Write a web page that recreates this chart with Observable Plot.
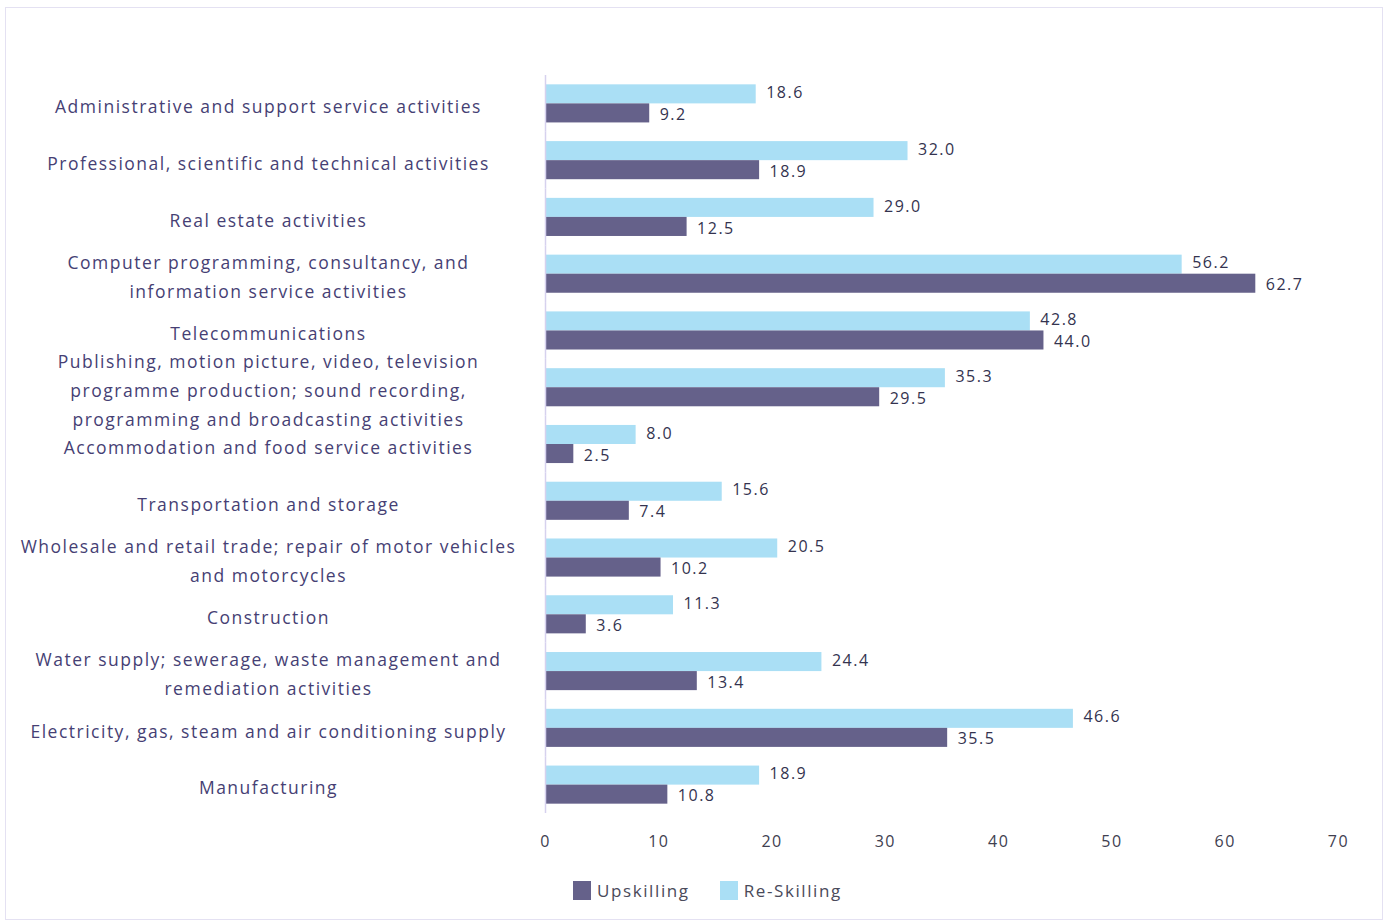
<!DOCTYPE html>
<html>
<head>
<meta charset="utf-8">
<script src="https://cdn.jsdelivr.net/npm/d3@7"></script>
<script src="https://cdn.jsdelivr.net/npm/@observablehq/plot@0.6"></script>
<style>
  html, body { margin: 0; padding: 0; background: #fff; }
  body { width: 1387px; height: 923px; position: relative; overflow: hidden; font-family: "Open Sans", sans-serif; }
  #frame { position: absolute; left: 5px; top: 7px; width: 1376px; height: 911px; border: 1px solid #e4e1f2; }
  #chart { position: absolute; left: 0; top: 0; }
  #chart svg text { letter-spacing: 1.5px; }
  #legend { position: absolute; top: 879px; left: 573px; display: flex; align-items: center; font-size: 17px; letter-spacing: 1.6px; color: #4a4a5a; }
  .sw { width: 18px; height: 19px; display: inline-block; margin-right: 6px; }
  .item { display: flex; align-items: center; margin-right: 30px; }
</style>
</head>
<body>
<div id="frame"></div>
<div id="chart"></div>
<div id="legend"></div>
<script>
const categories = [
  "Administrative and support service activities",
  "Professional, scientific and technical activities",
  "Real estate activities",
  "Computer programming, consultancy, and\ninformation service activities",
  "Telecommunications",
  "Publishing, motion picture, video, television\nprogramme production; sound recording,\nprogramming and broadcasting activities",
  "Accommodation and food service activities",
  "Transportation and storage",
  "Wholesale and retail trade; repair of motor vehicles\nand motorcycles",
  "Construction",
  "Water supply; sewerage, waste management and\nremediation activities",
  "Electricity, gas, steam and air conditioning supply",
  "Manufacturing"
];
const upskilling = [9.2, 18.9, 12.5, 62.7, 44.0, 29.5, 2.5, 7.4, 10.2, 3.6, 13.4, 35.5, 10.8];
const reskilling = [18.6, 32.0, 29.0, 56.2, 42.8, 35.3, 8.0, 15.6, 20.5, 11.3, 24.4, 46.6, 18.9];
const seriesNames = ["Upskilling", "Re-Skilling"];
const seriesColors = ["#65618a", "#aadff5"];
const xTicks = [0, 10, 20, 30, 40, 50, 60, 70];

const data = [];
categories.forEach((c, i) => {
  data.push({category: c, series: "Re-Skilling", value: reskilling[i]});
  data.push({category: c, series: "Upskilling", value: upskilling[i]});
});

const labelStyle = {x: "value", fy: "category", y: "series", text: d => d.value.toFixed(1),
  textAnchor: "start", dx: 10, fontSize: 16, fill: "#34334f"};

const plot = Plot.plot({
  width: 1387,
  height: 870,
  marginLeft: 545,
  marginRight: 49,
  marginTop: 75,
  marginBottom: 57,
  style: {fontFamily: "Open Sans, sans-serif", background: "transparent"},
  x: {domain: [0, 70], axis: null},
  y: {domain: ["Re-Skilling", "Upskilling"], paddingInner: 0, paddingOuter: 0.49, round: false, axis: null},
  fy: {domain: categories, padding: 0, round: false, axis: null},
  color: {domain: seriesNames, range: seriesColors},
  marks: [
    Plot.barX(data, {fy: "category", y: "series", x: "value", fill: "series"}),
    Plot.text(data.filter(d => d.series === "Re-Skilling"), {...labelStyle, dy: -1.5}),
    Plot.text(data.filter(d => d.series === "Upskilling"), {...labelStyle, dy: 1.5}),
    Plot.ruleX([0], {stroke: "#d6d1ee", strokeWidth: 1.5}),
    Plot.text(categories, {fy: d => d, text: d => d, frameAnchor: "left", dx: -277,
      textAnchor: "middle", fontSize: 17.5, lineHeight: 1.66, fill: "#463f74"}),
    Plot.axisX({ticks: xTicks, tickSize: 0, tickPadding: 22, fontSize: 16, color: "#404050",
      tickFormat: d => d, label: null})
  ]
});
document.getElementById("chart").appendChild(plot);

const legend = document.getElementById("legend");
seriesNames.forEach((s, i) => {
  const item = document.createElement("span");
  item.className = "item";
  const sw = document.createElement("span");
  sw.className = "sw";
  sw.style.background = seriesColors[i];
  item.appendChild(sw);
  item.appendChild(document.createTextNode(s));
  legend.appendChild(item);
});
</script>
</body>
</html>
